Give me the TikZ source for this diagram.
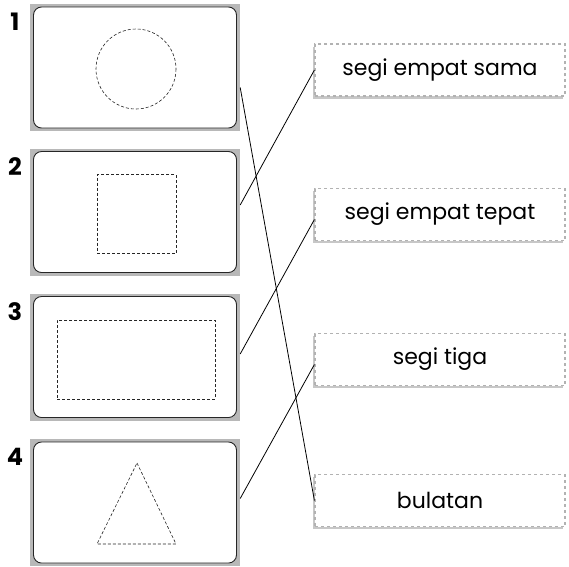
\documentclass[tikz,border=0pt]{standalone}
\usepackage{fontspec}
\setmainfont{Poppins}
\usetikzlibrary{shadows,positioning}
\tikzset{
  frame box/.style = {fill=black!28, minimum width=210pt, minimum height=127pt,
                      inner sep=0pt},
  card box/.style  = {draw=black!85, fill=white, rounded corners=8pt,
                      minimum width=203pt, minimum height=121pt, line width=0.9pt},
  dot line/.style  = {draw=black!85, line width=0.6pt, dash pattern=on 3pt off 2pt},
  name box/.style  = {draw=black!30, dashed, line width=1.2pt, fill=white,
                      minimum width=250pt, minimum height=52pt, font=\fontsize{22}{26}\selectfont,
                      drop shadow={shadow xshift=-2.5pt, shadow yshift=-2.5pt,
                                   fill=black!22, opacity=1}},
  num label/.style = {font=\fontsize{24}{28}\selectfont\bfseries, anchor=north},
  link/.style      = {draw=black, line width=0.8pt},
}
\begin{document}
\begin{tikzpicture}[x=1pt, y=-1pt]
  \useasboundingbox (0,0) rectangle (569,566);

  % left column: shape cards
  \foreach \i/\y in {1/67.5, 2/212, 3/357, 4/502.5} {
    \node[frame box] (f\i) at (135,\y) {};
    \node[card box] (c\i) at (f\i.center) {};
    \node[num label] (n\i) at (15,\y-58) {\i};
  }

  % dashed shapes
  \draw[dot line] (136,69) circle (40);
  \node[dot line, minimum width=79pt, minimum height=79pt] (sq) at (136.5,214) {};
  \node[dot line, minimum width=158pt, minimum height=79pt] (rect) at (136,359.5) {};
  \draw[dot line] (137,463) -- (176,544) -- (97,544) -- cycle;

  % right column: names
  \node[name box] (l1) at (440,70)    {segi empat sama};
  \node[name box] (l2) at (440,214.5) {segi empat tepat};
  \node[name box] (l3) at (440,359.5) {segi tiga};
  \node[name box] (l4) at (440,500.5) {bulatan};

  % matching lines
  \draw[link] ([yshift=-20pt]f1.east) -- (l4.west);
  \draw[link] ([yshift=7pt]f2.east) -- (l1.west);
  \draw[link] ([yshift=3pt]f3.east) -- ([yshift=-5pt]l2.west);
  \draw[link] ([yshift=4pt]f4.east) -- ([yshift=-5pt]l3.west);
\end{tikzpicture}
\end{document}
